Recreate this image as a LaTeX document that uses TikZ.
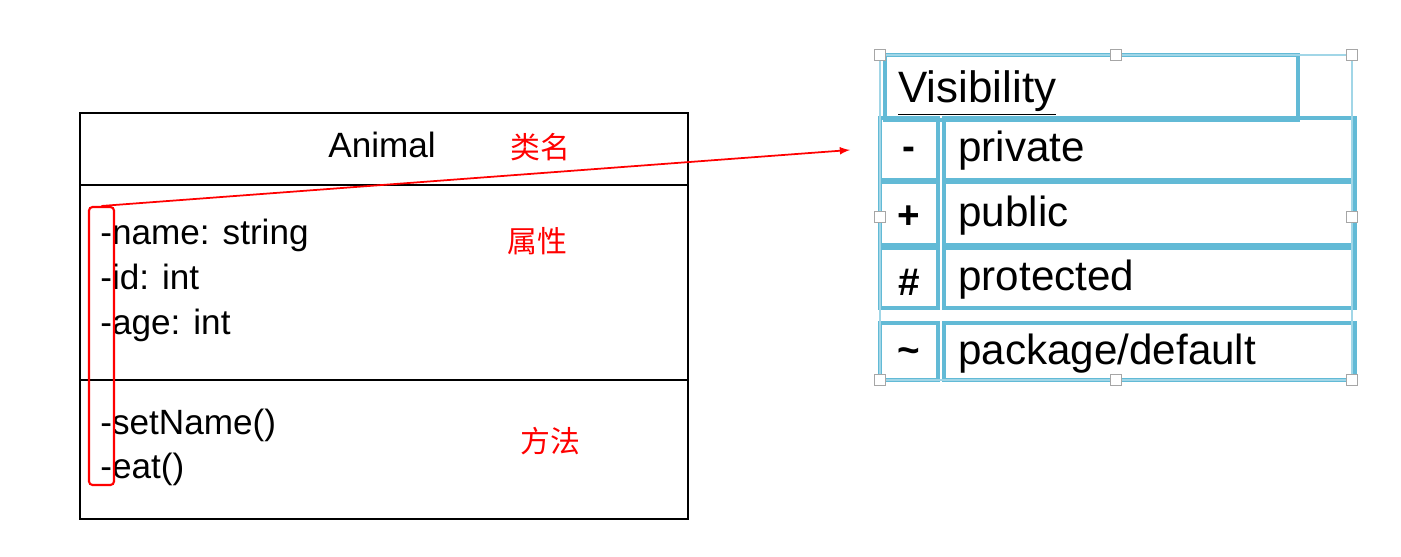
\documentclass[tikz,border=0pt]{standalone}
\usepackage{fontspec}
\setmainfont{Liberation Sans}
\newfontfamily\cjk{Noto Sans CJK SC}
\usetikzlibrary{positioning}
\definecolor{selblue}{RGB}{98,186,214}
\tikzset{
  member/.style={anchor=base west, font=\fontsize{20}{20}\selectfont, inner sep=0pt},
  note/.style={text=red, font=\cjk\fontsize{17}{17}\selectfont},
  cell/.style={draw=selblue, line width=2pt},
  vis/.style={anchor=base west, font=\fontsize{24}{24}\selectfont, inner sep=0pt},
  handle/.style={draw=gray!70, fill=white, minimum size=6pt, inner sep=0pt}
}
\begin{document}
\begin{tikzpicture}[x=0.02cm,y=-0.02cm]
\useasboundingbox (0,0) rectangle (1401,557);
% class box
\draw[line width=1.2pt] (80,113) rectangle (688,519);
\draw[line width=1.2pt] (80,185) -- (688,185);
\draw[line width=1.2pt] (80,380) -- (688,380);
\node[member] (cname) at (328,158) {Animal};
\node[member] (a1) at (100,245) {-name: string};
\node[member] (a2) at (100,290) {-id: int};
\node[member] (a3) at (100,335) {-age: int};
\node[member] (m1) at (100,435) {-setName()};
\node[member] (m2) at (100,479) {-eat()};
\node[draw=red, line width=1.2pt, rounded corners=2pt, minimum width=0.5cm, minimum height=5.56cm] (mark) at (101.5,346) {};
\node[note] (n1) at (540,147) {类名};
\node[note] (n2) at (537,241) {属性};
\node[note] (n3) at (550,441) {方法};
% visibility table
\node[cell, minimum width=8.26cm, minimum height=1.3cm] (vt) at (1091.5,87.5) {};
\node[vis, font=\fontsize{25}{25}\selectfont] (vtitle) at (898,103) {\underline{Visibility}};
\foreach \n/\y/\h/\s/\t in {1/149/62/-/{private},2/213.5/63/+/{public},3/278/60/\#/{protected},4/351.5/57/\textasciitilde/{package/default}}{
  \node[cell, minimum width=1.16cm, minimum height=\h*0.02cm] (s\n) at (909,\y) {};
  \node[font=\bfseries\fontsize{22}{22}\selectfont] at (909,\y+4) {\s};
  \node[cell, minimum width=8.22cm, minimum height=\h*0.02cm] (c\n) at (1149.5,\y) {};
  \node[vis] at (958,\y+13) {\t};
}
\draw[selblue!60, line width=0.6pt] (880,55) rectangle (1352,380);
\foreach \x/\y [count=\i] in {880/55,1116/55,1352/55,880/217,1352/217,880/380,1116/380,1352/380}
  \node[handle] (h\i) at (\x,\y) {};
% arrow
\coordinate (tip) at (850,150);
\draw[red, line width=1pt, -latex] (mark.north) -- (tip);
\end{tikzpicture}
\end{document}
